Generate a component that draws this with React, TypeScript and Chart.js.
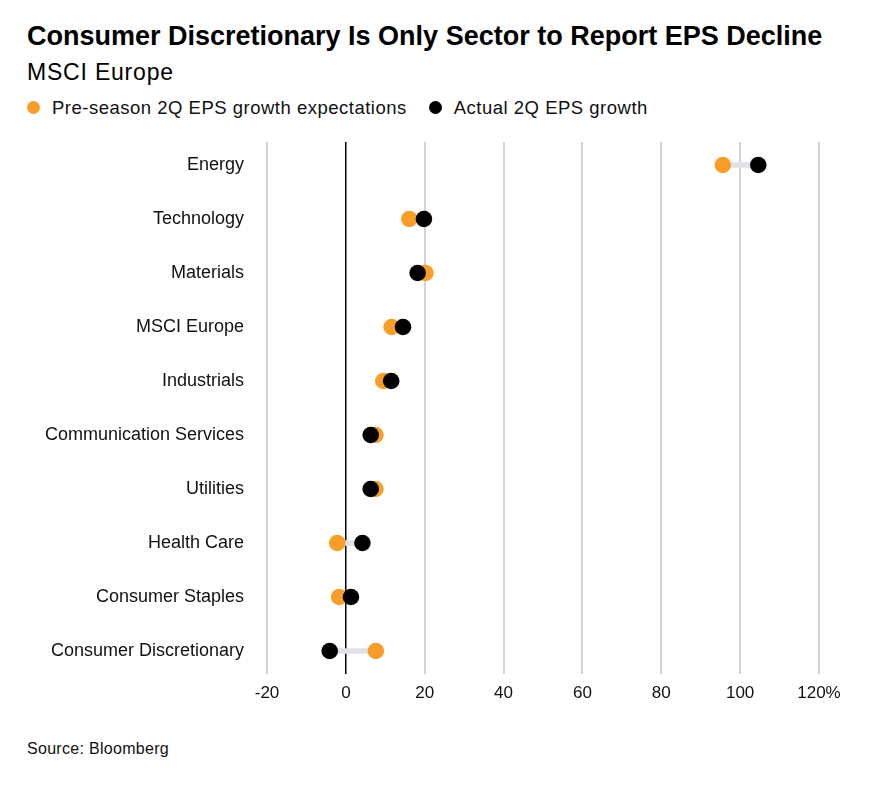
import { useEffect, useRef } from 'react';
import { Chart, registerables } from 'chart.js';

Chart.register(...registerables);

const FONT = "'Liberation Sans', Arial, sans-serif";
const ORANGE = '#f99d2a';

const sectors = [
  'Energy',
  'Technology',
  'Materials',
  'MSCI Europe',
  'Industrials',
  'Communication Services',
  'Utilities',
  'Health Care',
  'Consumer Staples',
  'Consumer Discretionary',
];
// Pre-season 2Q EPS growth expectations (%)
const expected = [95.6, 16.1, 20.2, 11.6, 9.5, 7.5, 7.5, -2.2, -1.7, 7.6];
// Actual 2Q EPS growth (%)
const actual = [104.6, 19.8, 18.2, 14.5, 11.5, 6.3, 6.3, 4.2, 1.3, -4.1];
const xTicks = [-20, 0, 20, 40, 60, 80, 100, 120];

function DumbbellChart() {
  const canvasRef = useRef<HTMLCanvasElement>(null);
  const chartRef = useRef<Chart | null>(null);

  useEffect(() => {
    if (!canvasRef.current) return;
    Chart.defaults.font.family = FONT;
    Chart.defaults.color = '#111';

    chartRef.current = new Chart(canvasRef.current, {
      type: 'bar',
      data: {
        datasets: [
          {
            type: 'bar',
            data: sectors.map((_, i) => ({ x: [expected[i], actual[i]], y: i })) as any,
            backgroundColor: '#e1e1e8',
            barThickness: 5,
            borderSkipped: false,
            order: 3,
          },
          {
            type: 'line',
            data: expected.map((v, i) => ({ x: v, y: i })),
            showLine: false,
            pointRadius: 8.3,
            pointHoverRadius: 8.3,
            pointBackgroundColor: ORANGE,
            pointBorderWidth: 0,
            order: 2,
          },
          {
            type: 'line',
            data: actual.map((v, i) => ({ x: v, y: i })),
            showLine: false,
            pointRadius: 8.3,
            pointHoverRadius: 8.3,
            pointBackgroundColor: '#000',
            pointBorderWidth: 0,
            order: 1,
          },
        ] as any,
      },
      options: {
        indexAxis: 'y',
        responsive: false,
        animation: false,
        layout: { padding: { top: 12, right: 51, left: 0, bottom: 0 } },
        plugins: {
          legend: { display: false },
          tooltip: { enabled: false },
        },
        scales: {
          x: {
            type: 'linear',
            min: -20,
            max: 120,
            afterBuildTicks: (scale) => {
              scale.ticks = xTicks.map((value) => ({ value }));
            },
            afterFit: (scale: any) => {
              scale.height = 56;
              scale.paddingLeft = 0;
              scale.paddingRight = 0;
            },
            grid: {
              color: (ctx) => (ctx.tick && ctx.tick.value === 0 ? '#000' : '#d4d4d4'),
              lineWidth: (ctx) => (ctx.tick && ctx.tick.value === 0 ? 1.5 : 2),
              drawTicks: false,
            },
            border: { display: false },
            ticks: {
              padding: 9,
              color: '#111',
              font: { size: 17 },
              callback: (v) => (v === 120 ? '120%' : String(v)),
            },
          },
          y: {
            type: 'linear',
            reverse: true,
            offset: false,
            min: -0.426,
            max: sectors.length - 1 + 0.426,
            afterBuildTicks: (scale) => {
              scale.ticks = sectors.map((_, i) => ({ value: i }));
            },
            afterFit: (scale: any) => {
              scale.width = 267;
              scale.paddingTop = 0;
              scale.paddingBottom = 0;
            },
            grid: { display: false, drawTicks: false },
            border: { display: false },
            ticks: {
              padding: 23,
              color: '#111',
              font: { size: 18 },
              callback: (v) => sectors[Number(v)] ?? '',
            },
          },
        },
      },
    });

    return () => {
      chartRef.current?.destroy();
    };
  }, []);

  return (
    <canvas
      ref={canvasRef}
      width={870}
      height={600}
      style={{ position: 'absolute', left: 0, top: 130, width: 870, height: 600 }}
      role="img"
      aria-label="Dot plot of pre-season expected vs actual 2Q EPS growth by MSCI Europe sector"
    />
  );
}

export default function App() {
  const dot = (color: string) => ({
    display: 'inline-block',
    width: 13,
    height: 13,
    borderRadius: '50%',
    background: color,
    marginRight: 12,
    verticalAlign: 'middle',
    position: 'relative' as const,
    top: -2,
  });

  return (
    <div
      style={{
        position: 'absolute',
        left: 0,
        top: 0,
        width: 886,
        height: 786,
        background: '#fff',
        fontFamily: FONT,
        color: '#000',
      }}
    >
      <div style={{ position: 'absolute', left: 27, top: 23, fontSize: 27, fontWeight: 700, lineHeight: 1, whiteSpace: 'nowrap' }}>
        Consumer Discretionary Is Only Sector to Report EPS Decline
      </div>
      <div style={{ position: 'absolute', left: 27, top: 61, fontSize: 23, letterSpacing: 0.8, lineHeight: 1 }}>MSCI Europe</div>
      <div
        style={{
          position: 'absolute',
          left: 27,
          top: 99,
          fontSize: 18.5,
          letterSpacing: 0.5,
          lineHeight: 1,
          whiteSpace: 'nowrap',
          color: '#111',
        }}
      >
        <span style={dot(ORANGE)} />
        <span style={{ marginRight: 22 }}>Pre-season 2Q EPS growth expectations</span>
        <span style={dot('#000')} />
        <span>Actual 2Q EPS growth</span>
      </div>
      <DumbbellChart />
      <div style={{ position: 'absolute', left: 27, top: 741, fontSize: 16, letterSpacing: 0.3, lineHeight: 1, color: '#111' }}>
        Source: Bloomberg
      </div>
    </div>
  );
}
